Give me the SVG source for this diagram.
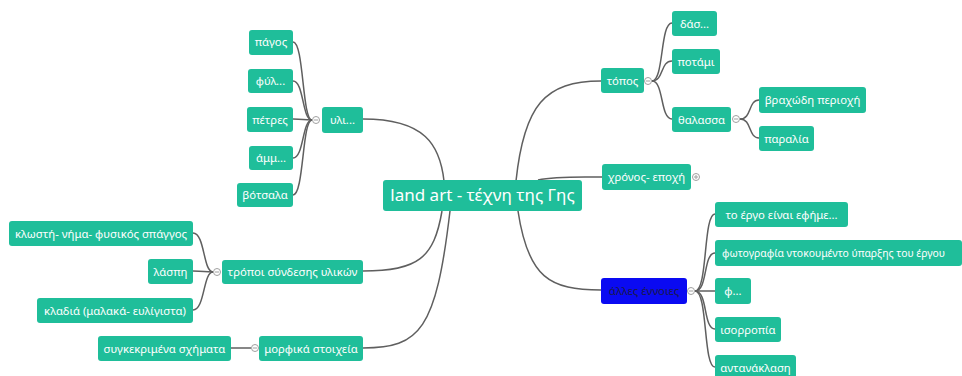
<svg xmlns="http://www.w3.org/2000/svg" width="962" height="376" viewBox="0 0 962 376">
<style>
.n{fill:#1fbe9a}
.b{fill:#0a0af2}
.t{font-family:"Noto Sans","DejaVu Sans",sans-serif;font-size:11.3px;fill:#ffffff}
.td{font-family:"Noto Sans","DejaVu Sans",sans-serif;font-size:11.3px;fill:#1a1a4a}
.tc{font-family:"Noto Sans","DejaVu Sans",sans-serif;font-size:17px;fill:#ffffff}
.c{fill:none;stroke:#5f5f5f;stroke-width:1.5}
.k{fill:#ffffff;stroke:#a0a0a0;stroke-width:1}
.km{stroke:#a0a0a0;stroke-width:1}
</style>
<rect width="962" height="376" fill="#ffffff"/>
<g id="connectors">
<path class="c" d="M363,119 C425,119 440,145 444,181"/>
<path class="c" d="M516,181 C524,105 545,81 601,81"/>
<path class="c" d="M538,180 C556,176 580,177 602,177"/>
<path class="c" d="M442,211 C434,258 418,271 363,271"/>
<path class="c" d="M450,211 C436,330 420,348 363,348"/>
<path class="c" d="M518,211 C528,278 550,290 601,290"/>
<path class="c" d="M312,120 C302,120 304,42 293,42"/>
<path class="c" d="M312,120 C302,120 304,81 293,81"/>
<path class="c" d="M312,120 C302,120 304,119 293,119"/>
<path class="c" d="M312,120 C302,120 304,158 293,158"/>
<path class="c" d="M312,120 C302,120 304,195 293,195"/>
<path class="c" d="M213,272 C203,272 205,233 193,233"/>
<path class="c" d="M213,272 C203,272 205,271 193,271"/>
<path class="c" d="M213,272 C203,272 205,310 193,310"/>
<path class="c" d="M251,348 C240,348 240,348 231,348"/>
<path class="c" d="M652,81 C664,81 660,23 672,23"/>
<path class="c" d="M652,81 C664,81 660,61 672,61"/>
<path class="c" d="M652,81 C664,81 660,119 672,119"/>
<path class="c" d="M740,119 C752,119 748,100 759,100"/>
<path class="c" d="M740,119 C752,119 748,138 759,138"/>
<path class="c" d="M695,291 C708,291 703,214 715,214"/>
<path class="c" d="M695,291 C708,291 703,253 715,253"/>
<path class="c" d="M695,291 C708,291 703,291 715,291"/>
<path class="c" d="M695,291 C708,291 703,329 715,329"/>
<path class="c" d="M695,291 C708,291 703,367 715,367"/>
</g>
<g id="n-center">
<rect class="n" x="383" y="180" width="199" height="31" rx="3"/>
<text class="tc" x="482.5" y="201" text-anchor="middle">land art - τέχνη της Γης</text>
</g>
<g id="n-yli">
<rect class="n" x="322" y="107" width="41" height="26" rx="3"/>
<text class="t" x="342.5" y="124" text-anchor="middle">υλι...</text>
<circle class="k" cx="316" cy="120" r="3.5"/><line class="km" x1="314" y1="120" x2="318" y2="120"/>
</g>
<g id="n-pagos"><rect class="n" x="249" y="30" width="44" height="25" rx="3"/><text class="t" x="271" y="46" text-anchor="middle">πάγος</text></g>
<g id="n-fyl"><rect class="n" x="248" y="69" width="45" height="24" rx="3"/><text class="t" x="270.5" y="85" text-anchor="middle">φύλ...</text></g>
<g id="n-petres"><rect class="n" x="247" y="107" width="46" height="25" rx="3"/><text class="t" x="270" y="123.5" text-anchor="middle">πέτρες</text></g>
<g id="n-amm"><rect class="n" x="249" y="146" width="44" height="24" rx="3"/><text class="t" x="271" y="162" text-anchor="middle">άμμ...</text></g>
<g id="n-votsala"><rect class="n" x="237" y="183" width="56" height="24" rx="3"/><text class="t" x="265" y="199" text-anchor="middle">βότσαλα</text></g>
<g id="n-tropoi">
<rect class="n" x="222" y="260" width="141" height="24" rx="3"/>
<text class="t" x="292.5" y="276" text-anchor="middle">τρόποι σύνδεσης υλικών</text>
<circle class="k" cx="217" cy="272" r="3.5"/><line class="km" x1="215" y1="272" x2="219" y2="272"/>
</g>
<g id="n-klosti"><rect class="n" x="9" y="221" width="184" height="25" rx="3"/><text class="t" x="101" y="237.5" text-anchor="middle">κλωστή- νήμα- φυσικός σπάγγος</text></g>
<g id="n-laspi"><rect class="n" x="148" y="259" width="45" height="25" rx="3"/><text class="t" x="170.5" y="275.5" text-anchor="middle">λάσπη</text></g>
<g id="n-kladia"><rect class="n" x="37" y="298" width="156" height="25" rx="3"/><text class="t" x="115" y="314.5" text-anchor="middle">κλαδιά (μαλακά- ευλίγιστα)</text></g>
<g id="n-morfika">
<rect class="n" x="259" y="336" width="104" height="25" rx="3"/>
<text class="t" x="311" y="352.5" text-anchor="middle">μορφικά στοιχεία</text>
<circle class="k" cx="255" cy="348" r="3.5"/><line class="km" x1="253" y1="348" x2="257" y2="348"/>
</g>
<g id="n-schimata"><rect class="n" x="98" y="336" width="133" height="25" rx="3"/><text class="t" x="164.5" y="352.5" text-anchor="middle">συγκεκριμένα σχήματα</text></g>
<g id="n-topos">
<rect class="n" x="601" y="68" width="43" height="25" rx="3"/>
<text class="t" x="622.5" y="84.5" text-anchor="middle">τόπος</text>
<circle class="k" cx="648" cy="81" r="3.5"/><line class="km" x1="646" y1="81" x2="650" y2="81"/>
</g>
<g id="n-das"><rect class="n" x="672" y="11" width="45" height="25" rx="3"/><text class="t" x="694.5" y="27.5" text-anchor="middle">δάσ...</text></g>
<g id="n-potami"><rect class="n" x="672" y="49" width="48" height="25" rx="3"/><text class="t" x="696" y="65.5" text-anchor="middle">ποτάμι</text></g>
<g id="n-thalassa">
<rect class="n" x="672" y="107" width="59" height="25" rx="3"/>
<text class="t" x="701.5" y="123.5" text-anchor="middle">θαλασσα</text>
<circle class="k" cx="736" cy="119" r="3.5"/><line class="km" x1="734" y1="119" x2="738" y2="119"/>
</g>
<g id="n-vrachodi"><rect class="n" x="759" y="87" width="107" height="26" rx="3"/><text class="t" x="812.5" y="104" text-anchor="middle">βραχώδη περιοχή</text></g>
<g id="n-paralia"><rect class="n" x="759" y="126" width="55" height="25" rx="3"/><text class="t" x="786.5" y="142.5" text-anchor="middle">παραλία</text></g>
<g id="n-chronos">
<rect class="n" x="602" y="164" width="89" height="26" rx="3"/>
<text class="t" x="646.5" y="181" text-anchor="middle">χρόνος- εποχή</text>
<circle class="k" cx="696" cy="177" r="3.5"/><line class="km" x1="694" y1="177" x2="698" y2="177"/><line class="km" x1="696" y1="175" x2="696" y2="179"/>
</g>
<g id="n-alles">
<rect class="b" x="601" y="278" width="86" height="26" rx="3"/>
<text class="td" x="644" y="295" text-anchor="middle">άλλες έννοιες</text>
<circle class="k" cx="691" cy="291" r="3.5"/><line class="km" x1="689" y1="291" x2="693" y2="291"/>
</g>
<g id="n-efimero"><rect class="n" x="715" y="202" width="133" height="25" rx="3"/><text class="t" x="781.5" y="218.5" text-anchor="middle">το έργο είναι εφήμε...</text></g>
<g id="n-fotografia"><rect class="n" x="715" y="240" width="247" height="26" rx="3"/><text class="t" x="722" y="257" style="font-size:10.4px">φωτογραφία ντοκουμέντο ύπαρξης του έργου</text></g>
<g id="n-f"><rect class="n" x="715" y="278" width="36" height="26" rx="3"/><text class="t" x="733" y="295" text-anchor="middle">φ...</text></g>
<g id="n-isorropia"><rect class="n" x="715" y="317" width="66" height="25" rx="3"/><text class="t" x="748" y="333.5" text-anchor="middle">ισορροπία</text></g>
<g id="n-antanaklasi"><rect class="n" x="715" y="355" width="81" height="26" rx="3"/><text class="t" x="755.5" y="372" text-anchor="middle">αντανάκλαση</text></g>
</svg>
